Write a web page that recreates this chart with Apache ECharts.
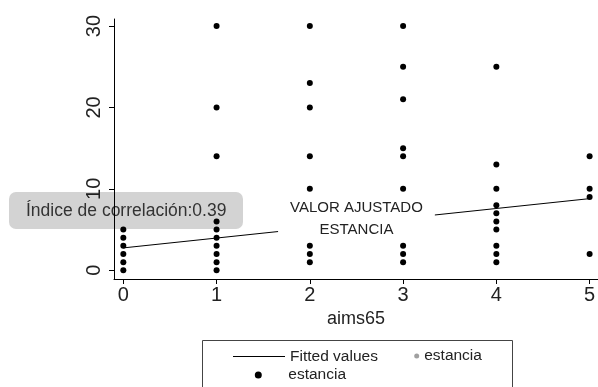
<!DOCTYPE html>
<html>
<head>
<meta charset="utf-8">
<script src="https://cdn.jsdelivr.net/npm/echarts@6/dist/echarts.min.js"></script>
<style>html,body{margin:0;padding:0;background:#fff}#c{width:598px;height:387px}</style>
</head>
<body>
<div id="c"></div>
<script>
// ---- data ----
const aims65Ticks = [0, 1, 2, 3, 4, 5];
const estanciaTicks = [0, 10, 20, 30];
const estanciaAt0 = [0, 1, 2, 3, 4, 5];
const estanciaAt1 = [0, 1, 2, 3, 4, 5, 6, 14, 20, 30];
const estanciaAt2 = [1, 2, 3, 10, 14, 20, 23, 30];
const estanciaAt3 = [1, 2, 3, 10, 14, 15, 21, 25, 30];
const estanciaAt4 = [1, 2, 3, 5, 6, 7, 8, 10, 13, 25];
const estanciaAt5 = [2, 9, 10, 14];
const fittedX = [0, 5];
const fittedY = [2.75, 8.8];
const correlationText = 'Índice de correlación:0.39';
const annotationText = 'VALOR AJUSTADO\nESTANCIA';

const columns = [estanciaAt0, estanciaAt1, estanciaAt2, estanciaAt3, estanciaAt4, estanciaAt5];
const scatterData = [];
columns.forEach((vals, i) => vals.forEach(v => scatterData.push([aims65Ticks[i], v])));
const fittedData = fittedX.map((x, i) => [x, fittedY[i]]);

const FONT = "'Liberation Sans', Arial, sans-serif";
const chart = echarts.init(document.getElementById('c'), null, {renderer: 'canvas'});
chart.setOption({
  animation: false,
  backgroundColor: '#fff',
  grid: {left: 114, right: 0, top: 19, bottom: 108, containLabel: false, outerBoundsMode: 'none'},
  xAxis: {
    type: 'value', min: -0.1, max: 5.09,
    name: 'aims65', nameLocation: 'middle', nameGap: 18,
    nameTextStyle: {fontFamily: FONT, fontSize: 18, color: '#222'},
    axisLine: {onZero: false, lineStyle: {color: '#000', width: 1}},
    axisTick: {show: true, length: 5, lineStyle: {color: '#000'}, customValues: aims65Ticks},
    axisLabel: {fontFamily: FONT, fontSize: 20, color: '#222', margin: 6, customValues: aims65Ticks},
    splitLine: {show: false}
  },
  yAxis: {
    type: 'value', min: -1.07, max: 30.86,
    axisLine: {show: true, onZero: false, lineStyle: {color: '#000', width: 1}},
    axisTick: {show: true, length: 5, lineStyle: {color: '#000'}, customValues: estanciaTicks},
    axisLabel: {fontFamily: FONT, fontSize: 20, color: '#222', margin: 10, rotate: 90, customValues: estanciaTicks},
    splitLine: {show: false}
  },
  legend: [
    {data: [{name: 'Fitted values', icon: 'rect'}], left: 233, top: 348.5, padding: 0, itemWidth: 52, itemHeight: 1, selectedMode: false,
     itemStyle: {color: '#000'},
     textStyle: {fontFamily: FONT, fontSize: 15.5, color: '#222', lineHeight: 16}},
    {data: ['estancia '], left: 414.2, top: 348, padding: 0, itemWidth: 5, itemHeight: 5, selectedMode: false,
     formatter: n => n.trim(),
     textStyle: {fontFamily: FONT, fontSize: 15.5, color: '#222', lineHeight: 16}},
    {data: ['estancia'], left: 254.8, top: 367, padding: 0, itemWidth: 50, itemHeight: 7, selectedMode: false,
     textStyle: {fontFamily: FONT, fontSize: 15.5, color: '#222', lineHeight: 16}}
  ],
  series: [
    {
      name: 'Fitted values', type: 'line', data: fittedData, symbol: 'none', showSymbol: false,
      lineStyle: {color: '#000', width: 1}, itemStyle: {color: '#000'}, z: 3,
      markPoint: {
        silent: true, symbol: 'rect', symbolSize: 1, itemStyle: {color: 'rgba(0,0,0,0)'},
        label: {show: true, position: 'inside', formatter: annotationText, backgroundColor: '#fff',
                padding: [0, 12], lineHeight: 21.5, fontSize: 15, fontFamily: FONT, color: '#222', align: 'center'},
        data: [{coord: [2.5, 6.3]}]
      }
    },
    {
      name: 'estancia', type: 'scatter', data: scatterData, symbol: 'circle', symbolSize: 6,
      itemStyle: {color: '#000', opacity: 1}, z: 4
    },
    {
      name: 'estancia ', type: 'scatter', data: [], symbol: 'circle', symbolSize: 5,
      itemStyle: {color: '#a0a0a0', opacity: 1}
    }
  ],
  graphic: [
    {type: 'rect', z: 100, shape: {x: 202.5, y: 340.5, width: 310, height: 60}, style: {fill: 'none', stroke: '#444', lineWidth: 1}},
    {type: 'group', z: 100, x: 9, y: 192, children: [
      {type: 'rect', shape: {x: 0, y: 0, width: 234, height: 37, r: 7}, style: {fill: '#d3d3d3'}},
      {type: 'text', x: 17, y: 19, style: {text: correlationText, fontFamily: FONT, fontSize: 17.5, fill: '#333', verticalAlign: 'middle'}}
    ]}
  ]
});
</script>
</body>
</html>
